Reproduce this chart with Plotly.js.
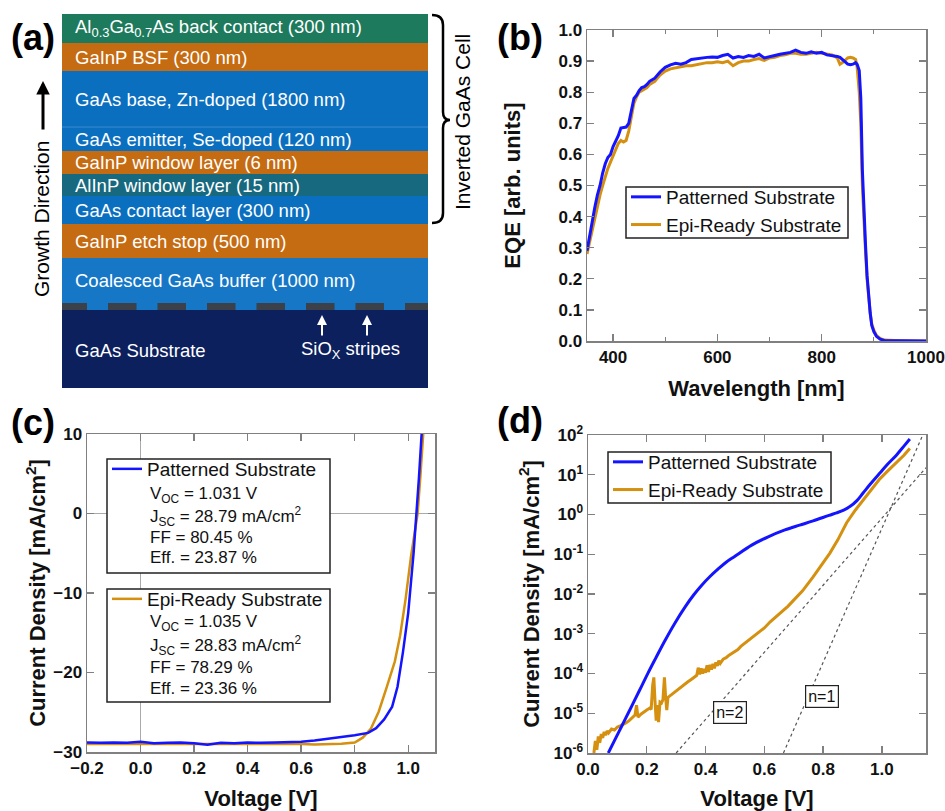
<!DOCTYPE html>
<html><head><meta charset="utf-8">
<script src="https://cdn.plot.ly/plotly-3.0.1.min.js"></script>
<style>html,body{margin:0;padding:0;background:#fff}#chart{width:945px;height:811px}</style>
</head><body><div id="chart"></div>
<script>
// ---------- Panel (b): EQE ----------
const wavelength = [350,355,360,365,370,375,380,385,390,395,400,405,410,415,420,425,430,435,440,445,450,455,460,465,470,475,480,490,500,510,520,530,540,550,560,570,580,590,600,610,620,630,640,650,660,670,680,690,700,710,720,730,740,750,760,770,780,790,800,810,820,830,835,840,850,855,860,865,868,872,875,878,881,884,887,890,893,896,900,905,912,920,940,960,980,1000];
const eqePatterned = [0.29,0.34,0.39,0.43,0.47,0.50,0.54,0.57,0.59,0.60,0.625,0.64,0.66,0.685,0.687,0.688,0.70,0.74,0.78,0.79,0.805,0.815,0.818,0.825,0.835,0.84,0.845,0.865,0.88,0.888,0.893,0.89,0.895,0.905,0.908,0.91,0.912,0.913,0.912,0.918,0.922,0.91,0.915,0.912,0.918,0.915,0.922,0.91,0.915,0.918,0.922,0.925,0.928,0.935,0.928,0.925,0.93,0.925,0.928,0.92,0.918,0.915,0.912,0.905,0.89,0.888,0.89,0.895,0.89,0.87,0.78,0.55,0.40,0.31,0.21,0.14,0.09,0.05,0.03,0.015,0.006,0.002,0.001,0,0,0];
const eqeEpiReady = [0.28,0.32,0.36,0.40,0.44,0.47,0.50,0.53,0.555,0.575,0.595,0.615,0.635,0.645,0.64,0.645,0.675,0.72,0.765,0.785,0.80,0.805,0.81,0.815,0.825,0.83,0.835,0.855,0.868,0.875,0.878,0.88,0.885,0.885,0.888,0.892,0.895,0.895,0.898,0.895,0.90,0.885,0.895,0.90,0.90,0.905,0.908,0.902,0.91,0.912,0.918,0.92,0.925,0.925,0.922,0.922,0.925,0.928,0.925,0.922,0.92,0.91,0.89,0.895,0.91,0.912,0.91,0.905,0.88,0.80,0.70,0.50,0.38,0.29,0.20,0.135,0.09,0.055,0.035,0.018,0.008,0.003,0.001,0,0,0];

// ---------- Panel (c): illuminated J-V ----------
const vLightPatterned = [-0.2,-0.15,-0.1,-0.05,0,0.05,0.1,0.15,0.2,0.25,0.3,0.35,0.4,0.45,0.5,0.55,0.6,0.65,0.7,0.75,0.8,0.85,0.88,0.91,0.94,0.96,0.98,1.0,1.02,1.031,1.04,1.05];
const jLightPatterned = [-28.8,-28.85,-28.8,-28.85,-28.7,-28.9,-28.85,-28.8,-28.9,-29.1,-28.85,-28.9,-28.8,-28.85,-28.8,-28.75,-28.7,-28.55,-28.3,-28.1,-27.9,-27.6,-27.0,-25.9,-24.3,-21.8,-17.5,-12.5,-5.0,0,4.5,10];
const vLightEpi = [-0.2,-0.15,-0.1,-0.05,0,0.05,0.1,0.15,0.2,0.25,0.3,0.35,0.4,0.45,0.5,0.55,0.6,0.65,0.7,0.75,0.8,0.83,0.86,0.89,0.92,0.95,0.97,0.99,1.01,1.035,1.045,1.056];
const jLightEpi = [-29.0,-29.0,-28.95,-29.0,-28.95,-29.0,-29.0,-28.95,-29.0,-29.0,-28.95,-29.0,-28.95,-29.0,-29.0,-28.95,-29.0,-29.05,-29.0,-28.95,-28.8,-28.2,-27.1,-24.9,-21.8,-18.6,-15.3,-10.8,-5.5,0,4.5,10];

// ---------- Panel (d): dark J-V ----------
const vDarkPatterned = [0.069,0.09,0.115,0.14,0.16,0.185,0.205,0.23,0.262,0.295,0.33,0.36,0.387,0.415,0.443,0.47,0.5,0.557,0.613,0.67,0.72,0.766,0.82,0.846,0.87,0.891,0.915,0.936,0.96,0.993,1.02,1.05,1.075,1.095];
const jDarkPatterned = [1e-6,2.04e-6,4.79e-6,1.12e-5,2.24e-5,5.25e-5,1.05e-4,2.4e-4,6.76e-4,1.82e-3,4.68e-3,9.55e-3,1.66e-2,2.75e-2,4.27e-2,6.31e-2,8.91e-2,0.17,0.275,0.41,0.54,0.69,0.95,1.1,1.29,1.58,2.24,3.47,5.75,11,18.6,31.6,52.5,79.4];
const vDarkEpi = [0.020,0.025,0.030,0.035,0.040,0.045,0.050,0.055,0.060,0.065,0.070,0.080,0.090,0.100,0.110,0.120,0.130,0.140,0.150,0.160,0.165,0.170,0.180,0.190,0.200,0.210,0.215,0.220,0.224,0.228,0.232,0.236,0.240,0.245,0.250,0.255,0.260,0.264,0.268,0.272,0.280,0.290,0.300,0.310,0.320,0.330,0.340,0.350,0.360,0.370,0.375,0.380,0.385,0.390,0.395,0.400,0.405,0.410,0.415,0.420,0.425,0.430,0.435,0.440,0.445,0.450,0.460,0.470,0.480,0.490,0.500,0.510,0.520,0.530,0.540,0.550,0.560,0.570,0.580,0.600,0.620,0.640,0.660,0.680,0.700,0.730,0.766,0.800,0.823,0.850,0.880,0.910,0.936,0.960,0.993,1.020,1.050,1.075,1.095];
const jDarkEpi = [1.0e-6,2.0e-6,1.2e-6,2.6e-6,1.8e-6,3.0e-6,2.4e-6,3.4e-6,2.8e-6,3.6e-6,3.2e-6,4.0e-6,3.8e-6,4.5e-6,4.8e-6,5.2e-6,5.8e-6,6.5e-6,7.5e-6,9.0e-6,1.6e-5,8.0e-6,9.5e-6,1.05e-5,1.2e-5,1.35e-5,1.25e-5,5.0e-5,8.0e-5,2.0e-5,6.5e-6,1.6e-5,6.0e-6,1.9e-5,1.8e-5,2.2e-5,8.0e-5,2.6e-5,1.2e-5,2.5e-5,2.8e-5,3.2e-5,3.6e-5,4.2e-5,4.8e-5,5.6e-5,6.2e-5,7.0e-5,8.0e-5,9.0e-5,1.4e-4,9.5e-5,1.35e-4,1.0e-4,1.3e-4,1.05e-4,1.6e-4,1.1e-4,1.65e-4,1.25e-4,1.75e-4,1.35e-4,1.9e-4,1.55e-4,2.1e-4,1.8e-4,2.3e-4,2.5e-4,2.9e-4,3.2e-4,3.5e-4,4.0e-4,4.8e-4,5.5e-4,6.3e-4,7.2e-4,8.5e-4,9.5e-4,1.1e-3,1.4e-3,2.0e-3,2.7e-3,3.6e-3,4.9e-3,7.0e-3,1.2e-2,2.7e-2,6.0e-2,0.107,0.23,0.62,1.3,2.3,3.9,7.9,12.5,20,31,46];
const idealN1V = [0.665, 1.139];
const idealN1J = [1e-6, 100];
const idealN2V = [0.30, 1.15];
const idealN2J = [1e-6, 15];
const logTickVals = [1e-6,1e-5,1e-4,1e-3,1e-2,1e-1,1,10,100];
const logTickText = ['10<sup>-6</sup>','10<sup>-5</sup>','10<sup>-4</sup>','10<sup>-3</sup>','10<sup>-2</sup>','10<sup>-1</sup>','10<sup>0</sup>','10<sup>1</sup>','10<sup>2</sup>'];

// ---------- Series / text ----------
const seriesNames = ['Patterned Substrate','Epi-Ready Substrate'];
const statsPatterned = ['V<sub>OC</sub> = 1.031 V','J<sub>SC</sub> = 28.79 mA/cm<sup>2</sup>','FF = 80.45 %','Eff. = 23.87 %'];
const statsEpi = ['V<sub>OC</sub> = 1.035 V','J<sub>SC</sub> = 28.83 mA/cm<sup>2</sup>','FF = 78.29 %','Eff. = 23.36 %'];

// ---------- Panel (a): layer stack ----------
const layerLabels = ['Al<sub>0.3</sub>Ga<sub>0.7</sub>As back contact (300 nm)','GaInP BSF (300 nm)','GaAs base, Zn-doped (1800 nm)','GaAs emitter, Se-doped (120 nm)','GaInP window layer (6 nm)','AlInP window layer (15 nm)','GaAs contact layer (300 nm)','GaInP etch stop (500 nm)','Coalesced GaAs buffer (1000 nm)'];
const layerColors = ['#1e7a5c','#c56b12','#0b6fc0','#0b6fc0','#c56b12','#17697f','#0b6fc0','#c56b12','#1577c6'];

// ================= drawing =================
const W = 945, H = 811;
const PX = x => x / W;
const PY = y => 1 - y / H;
const BLUE = '#1414ff', ORANGE = '#d4900e';
const FONT = 'Liberation Sans, Arial, Helvetica, sans-serif';
const layerEdges = [14,43,71,127,151,174,196,224,258,303];
const shapes = [], annotations = [];
const txt = (x, y, text, size, color, extra) => annotations.push(Object.assign({xref:'paper', yref:'paper', x:PX(x), y:PY(y), xanchor:'center', yanchor:'middle', text:text, showarrow:false, font:{family:FONT, size:size, color:color}}, extra || {}));

// layers
for (let i = 0; i < layerLabels.length; i++) {
  shapes.push({type:'rect', xref:'paper', yref:'paper', x0:PX(62), x1:PX(428), y0:PY(layerEdges[i+1]), y1:PY(layerEdges[i]), fillcolor:layerColors[i], line:{width:0}, layer:'below'});
  txt(73, (layerEdges[i]+layerEdges[i+1])/2, layerLabels[i], 18.5, '#ffffff', {xanchor:'left'});
}
shapes.push({type:'line', xref:'paper', yref:'paper', x0:PX(62), x1:PX(428), y0:PY(127), y1:PY(127), line:{color:'#3d8bd0', width:1}});
// stripe row + substrate
shapes.push({type:'rect', xref:'paper', yref:'paper', x0:PX(62), x1:PX(428), y0:PY(310), y1:PY(303), fillcolor:'#1577c6', line:{width:0}});
for (let k = -1; k <= 6; k++) {
  const a = Math.max(62, 108 + 49.5*k), b = Math.min(428, 108 + 49.5*k + 28.5);
  shapes.push({type:'rect', xref:'paper', yref:'paper', x0:PX(a), x1:PX(b), y0:PY(310), y1:PY(303), fillcolor:'#3b4049', line:{width:0}});
}
shapes.push({type:'rect', xref:'paper', yref:'paper', x0:PX(62), x1:PX(428), y0:PY(388), y1:PY(310), fillcolor:'#0c205e', line:{width:0}});
txt(73, 350, 'GaAs Substrate', 18.5, '#fff', {xanchor:'left'});
txt(350, 350, 'SiO<sub>X</sub> stripes', 18.5, '#fff');
[322, 367].forEach(x => annotations.push({xref:'paper', yref:'paper', x:PX(x), y:PY(315), ax:0, ay:22, text:'', showarrow:true, arrowhead:2, arrowsize:1, arrowwidth:2, arrowcolor:'#fff'}));
// growth direction
annotations.push({xref:'paper', yref:'paper', x:PX(43), y:PY(81), ax:0, ay:50, text:'', showarrow:true, arrowhead:2, arrowsize:0.9, arrowwidth:3, arrowcolor:'#000'});
txt(41, 219, 'Growth Direction', 21, '#000', {textangle:-90});
// brace
const bp = (x,y) => PX(x) + ',' + PY(y);
shapes.push({type:'path', xref:'paper', yref:'paper', path:'M'+bp(432,15)+' Q'+bp(443,15)+' '+bp(443,25)+' L'+bp(443,112)+' Q'+bp(443,120)+' '+bp(450,120)+' Q'+bp(443,120)+' '+bp(443,128)+' L'+bp(443,213)+' Q'+bp(443,223)+' '+bp(432,223), line:{color:'#000', width:2.5}});
txt(462, 122, 'Inverted GaAs Cell', 21, '#000', {textangle:-90});

// panel labels
[['(a)',33,37],['(b)',520,37],['(c)',33,422],['(d)',520,420]].forEach(p => txt(p[1], p[2], '<b>'+p[0]+'</b>', 36, '#000'));

// legend boxes
const box = (x0,x1,y0,y1) => shapes.push({type:'rect', xref:'paper', yref:'paper', x0:PX(x0), x1:PX(x1), y0:PY(y1), y1:PY(y0), fillcolor:'#fff', line:{color:'#222', width:1.5}, layer:'above'});
box(626, 848, 187, 238);   // (b)
box(107, 330, 459, 573);   // (c) patterned
box(107, 330, 589, 702);   // (c) epi-ready
box(608, 831, 452, 503);   // (d)
const statY1 = [495,516,537,557], statY2 = [623,645,667,688];
statsPatterned.forEach((t,i) => txt(148, statY1[i], t, 17, '#111', {xanchor:'left'}));
statsEpi.forEach((t,i) => txt(148, statY2[i], t, 17, '#111', {xanchor:'left'}));

// (d) ideality labels
annotations.push({xref:'x3', yref:'y3', x:0.483, y:-4.97, text:'n=2', showarrow:false, bgcolor:'#fff', bordercolor:'#222', borderwidth:1.2, borderpad:2, font:{family:FONT, size:16, color:'#111'}});
annotations.push({xref:'x3', yref:'y3', x:0.796, y:-4.57, text:'n=1', showarrow:false, bgcolor:'#fff', bordercolor:'#222', borderwidth:1.2, borderpad:2, font:{family:FONT, size:16, color:'#111'}});

const traces = [
  {x:wavelength, y:eqeEpiReady, xaxis:'x', yaxis:'y', mode:'lines', name:seriesNames[1], line:{color:ORANGE, width:3}, legend:'legend', legendrank:2},
  {x:wavelength, y:eqePatterned, xaxis:'x', yaxis:'y', mode:'lines', name:seriesNames[0], line:{color:BLUE, width:3}, legend:'legend', legendrank:1},
  {x:vLightEpi, y:jLightEpi, xaxis:'x2', yaxis:'y2', mode:'lines', name:seriesNames[1], line:{color:ORANGE, width:2.5}, legend:'legend3'},
  {x:vLightPatterned, y:jLightPatterned, xaxis:'x2', yaxis:'y2', mode:'lines', name:seriesNames[0], line:{color:BLUE, width:2.5}, legend:'legend2'},
  {x:idealN1V, y:idealN1J, xaxis:'x3', yaxis:'y3', mode:'lines', showlegend:false, line:{color:'#555', width:1.2, dash:'3px,3px'}},
  {x:idealN2V, y:idealN2J, xaxis:'x3', yaxis:'y3', mode:'lines', showlegend:false, line:{color:'#555', width:1.2, dash:'3px,3px'}},
  {x:vDarkEpi, y:jDarkEpi, xaxis:'x3', yaxis:'y3', mode:'lines', name:seriesNames[1], line:{color:ORANGE, width:3}, legend:'legend4', legendrank:2},
  {x:vDarkPatterned, y:jDarkPatterned, xaxis:'x3', yaxis:'y3', mode:'lines', name:seriesNames[0], line:{color:BLUE, width:3, shape:'spline'}, legend:'legend4', legendrank:1}
];

const tickFont = {family:FONT, size:17, color:'#111', weight:'bold'};
const titleFont = {family:FONT, size:22, color:'#111', weight:'bold'};
const axBase = {showline:true, linecolor:'#808080', linewidth:1.5, mirror:'ticks', ticks:'inside', ticklen:7, tickwidth:1.3, tickcolor:'#808080', showgrid:false, zeroline:false, tickfont:tickFont, automargin:false};
const legBase = {font:{family:FONT, size:19, color:'#111'}, xanchor:'left', yanchor:'top', bgcolor:'rgba(0,0,0,0)', borderwidth:0, traceorder:'normal'};

const layout = {
  width:W, height:H, margin:{l:0, r:0, t:0, b:0}, paper_bgcolor:'#fff', plot_bgcolor:'rgba(0,0,0,0)',
  font:{family:FONT}, showlegend:true,
  xaxis:Object.assign({}, axBase, {domain:[PX(587),PX(926)], anchor:'y', range:[350,1000], tick0:0, dtick:200, minor:{dtick:100, ticks:'inside', ticklen:4, tickcolor:'#808080', tickwidth:1.3}, title:{text:'Wavelength [nm]', font:titleFont, standoff:14}}),
  yaxis:Object.assign({}, axBase, {domain:[PY(341),PY(30)], anchor:'x', range:[0,1.0], dtick:0.1, tickformat:'.1f', title:{text:'EQE [arb. units]', font:titleFont, standoff:32}}),
  xaxis2:Object.assign({}, axBase, {domain:[PX(87),PX(435)], anchor:'y2', range:[-0.2,1.1], tick0:0, dtick:0.2, tickformat:'.1f', zeroline:true, zerolinecolor:'#aaa', zerolinewidth:1, title:{text:'Voltage [V]', font:titleFont, standoff:14}}),
  yaxis2:Object.assign({}, axBase, {domain:[PY(752),PY(434)], anchor:'x2', range:[-30,10], dtick:10, zeroline:true, zerolinecolor:'#aaa', zerolinewidth:1, title:{text:'Current Density [mA/cm<sup>2</sup>]', font:titleFont, standoff:1}}),
  xaxis3:Object.assign({}, axBase, {domain:[PX(588),PX(926)], anchor:'y3', range:[0,1.15], tick0:0, dtick:0.2, tickformat:'.1f', title:{text:'Voltage [V]', font:titleFont, standoff:14}}),
  yaxis3:Object.assign({}, axBase, {domain:[PY(753),PY(435)], anchor:'x3', type:'log', range:[-6,2], tickvals:logTickVals, ticktext:logTickText, title:{text:'Current Density [mA/cm<sup>2</sup>]', font:titleFont, standoff:8}}),
  legend:Object.assign({}, legBase, {x:PX(626), y:PY(178)}),
  legend2:Object.assign({}, legBase, {x:PX(107), y:PY(450)}),
  legend3:Object.assign({}, legBase, {x:PX(107), y:PY(580)}),
  legend4:Object.assign({}, legBase, {x:PX(608), y:PY(443)}),
  shapes:shapes, annotations:annotations
};
Plotly.newPlot('chart', traces, layout, {displayModeBar:false, staticPlot:true});
</script></body></html>
